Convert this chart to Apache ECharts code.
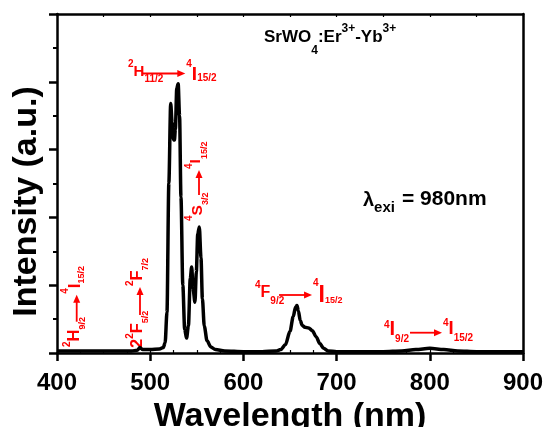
<!DOCTYPE html>
<html>
<head>
<meta charset="utf-8">
<script src="https://cdn.jsdelivr.net/npm/echarts@6/dist/echarts.min.js"></script>
<style>
html, body { margin: 0; background: #fff; }
#main { width: 545px; height: 427px; }
</style>
</head>
<body>
<div id="main"></div>
<script>
// spectrum (intensity in arbitrary units, 0-5 scale)
const wavelength = [400, 450, 480, 486, 489, 492, 500, 510, 514, 516, 518, 520, 522, 523.5, 525, 526, 527, 528.5, 530, 531.5, 533, 535, 537, 539, 541, 543, 544.5, 546, 548, 549.5, 551, 552.7, 554.5, 556, 558, 561, 565, 570, 580, 600, 620, 635, 640, 645, 650, 653.5, 656, 657.5, 659, 661, 663, 666, 670, 674, 678, 682, 686, 691, 700, 750, 770, 785, 800, 815, 830, 850, 900];
const intensity  = [0.03, 0.03, 0.03, 0.04, 0.08, 0.05, 0.05, 0.06, 0.08, 0.15, 0.6, 2.5, 3.68, 3.4, 3.15, 3.14, 3.3, 3.9, 3.97, 3.5, 2.3, 1.0, 0.35, 0.22, 0.4, 1.1, 1.27, 0.95, 0.75, 1.2, 1.75, 1.86, 1.4, 0.8, 0.4, 0.18, 0.09, 0.05, 0.03, 0.02, 0.02, 0.03, 0.05, 0.12, 0.32, 0.54, 0.68, 0.70, 0.62, 0.48, 0.41, 0.38, 0.37, 0.33, 0.24, 0.14, 0.07, 0.03, 0.02, 0.02, 0.03, 0.05, 0.07, 0.05, 0.03, 0.02, 0.02];
const xMin = 400, xMax = 900, xStep = 100;
const yMin = 0, yMax = 5, yStep = 1;

const FONT = '"Liberation Sans", Arial, sans-serif';
const RED = '#ff0000';
const ctx = document.createElement('canvas').getContext('2d');
function textW(t, size) {
  ctx.font = 'bold ' + size + 'px ' + FONT;
  return ctx.measureText(t).width;
}

// pieces flow left to right: [text, size, baselineOffset, dx] or {arrow, b, back}
function note(x, y, rot, parts, color) {
  color = color || RED;
  const children = [];
  let cx = 0;
  parts.forEach(function (p) {
    if (p.arrow) {
      const x1 = cx - (p.back || 0), x2 = x1 + p.arrow;
      children.push({ type: 'line', shape: { x1: x1, y1: p.b, x2: x2 - 6, y2: p.b }, style: { stroke: color, lineWidth: 1.8 } });
      children.push({ type: 'polygon', shape: { points: [[x2 - 8, p.b - 3.5], [x2, p.b], [x2 - 8, p.b + 3.5]] }, style: { fill: color } });
      cx = x2 + 1;
    } else {
      cx += p[3] || 0;
      children.push({
        type: 'text', x: cx, y: p[2] - 0.35 * p[1],
        style: { text: p[0], fontSize: p[1], fontWeight: 'bold', fontFamily: FONT, fill: color, align: 'left', verticalAlign: 'middle' }
      });
      cx += textW(p[0], p[1]);
    }
  });
  return { type: 'group', x: x, y: y, rotation: rot ? Math.PI / 2 : 0, z: 100, children: children };
}

const notes = [
  note(264, 43, 0, [['SrWO', 17, 0], ['4', 12, 11.5], [':Er', 17, 0], ['3+', 12, -10], ['-Yb', 17, 0], ['3+', 12, -10]], '#000'),
  note(363, 207, 0, [['λ', 20, 0], ['exi', 15, 6], ['= 980nm', 21, 0, 7]], '#000'),
  note(128, 77, 0, [['2', 10, -9.5], ['H', 15, 0], ['11/2', 10, 6], { arrow: 43, b: -3.5, back: 21 }, ['4', 10, -9.5], ['I', 19, 4.6], ['15/2', 10, 4.6]]),
  note(80, 347, 1, [['2', 10, -9.7], ['H', 16.5, 0], ['9/2', 9, 6], { arrow: 27, b: -3.3, back: 4.7 }, ['4', 10, -11.4], ['I', 17, 1], ['15/2', 9, 5]]),
  note(143, 348, 1, [['2', 16.5, 0], ['2', 10, -9.5], ['F', 16.5, 0], ['5/2', 9, 6], { arrow: 28, b: -3, back: 4.4 }, ['2', 10, -9.5], ['F', 16.5, 0], ['7/2', 9, 6]]),
  note(203, 221, 1, [['4', 10, -10], ['S', 15.5, 0], ['3/2', 9, 6], { arrow: 25, b: -4, back: 2.4 }, ['4', 10, -10], ['I', 15.5, -2], ['15/2', 9, 5]]),
  note(255, 298.3, 0, [['4', 10, -9.7], ['F', 16, 0], ['9/2', 10, 6.7], { arrow: 33, b: -3.3, back: 5.2 }, ['4', 10, -11.7], ['I', 23, 5], ['15/2', 9, 5]]),
  note(384, 336.7, 0, [['4', 10, -8], ['I', 20, 0], ['9/2', 10, 6], { arrow: 32, b: -4, back: -1 }, ['4', 10, -10], ['I', 18.5, -1.7], ['15/2', 10, 5]])
];

const chart = echarts.init(document.getElementById('main'));
const axisBlack = { lineStyle: { color: '#000', width: 2.5 } };
chart.setOption({
  animation: false,
  grid: { left: 57, right: 22, top: 14, bottom: 74, containLabel: false, outerBoundsMode: 'none' },
  xAxis: [{
    type: 'value', min: xMin, max: xMax, interval: xStep, position: 'bottom',
    axisLine: axisBlack,
    axisTick: { length: 8, lineStyle: { color: '#000', width: 2.5 } },
    axisLabel: { margin: 18, color: '#000', fontSize: 24, fontWeight: 'bold', fontFamily: FONT },
    splitLine: { show: false },
    name: 'Wavelength (nm)', nameLocation: 'middle', nameGap: 40,
    nameTextStyle: { color: '#000', fontSize: 34, fontWeight: 'bold', fontFamily: FONT }
  }, {
    type: 'value', min: xMin, max: xMax, interval: 25, position: 'bottom',
    axisLine: { show: false },
    axisTick: { inside: true, length: 3, lineStyle: { color: '#000', width: 1.2 } },
    axisLabel: { show: false }, splitLine: { show: false }
  }, {
    type: 'value', min: xMin, max: xMax, interval: 50, position: 'top',
    axisLine: axisBlack,
    axisTick: { inside: true, length: 3, lineStyle: { color: '#000', width: 1.2 } },
    axisLabel: { show: false }, splitLine: { show: false }
  }],
  yAxis: [{
    type: 'value', min: yMin, max: yMax, interval: yStep, position: 'left',
    axisLine: axisBlack,
    axisTick: { length: 8, lineStyle: { color: '#000', width: 2.5 } },
    minorTick: { show: true, splitNumber: 2, length: 4, lineStyle: { color: '#000', width: 2 } },
    axisLabel: { show: false },
    splitLine: { show: false },
    name: 'Intensity (a.u.)', nameLocation: 'middle', nameGap: 13,
    nameTextStyle: { color: '#000', fontSize: 34, fontWeight: 'bold', fontFamily: FONT, padding: [0, 36, 0, 0] }
  }, {
    type: 'value', min: yMin, max: yMax, position: 'right',
    axisLine: axisBlack, axisTick: { show: false }, axisLabel: { show: false }, splitLine: { show: false }
  }],
  series: [{
    type: 'line',
    data: wavelength.map(function (w, i) { return [w, intensity[i]]; }),
    showSymbol: false,
    smooth: 0.3,
    smoothMonotone: 'x',
    lineStyle: { color: '#000', width: 3.5 }
  }],
  graphic: notes
});
</script>
</body>
</html>
